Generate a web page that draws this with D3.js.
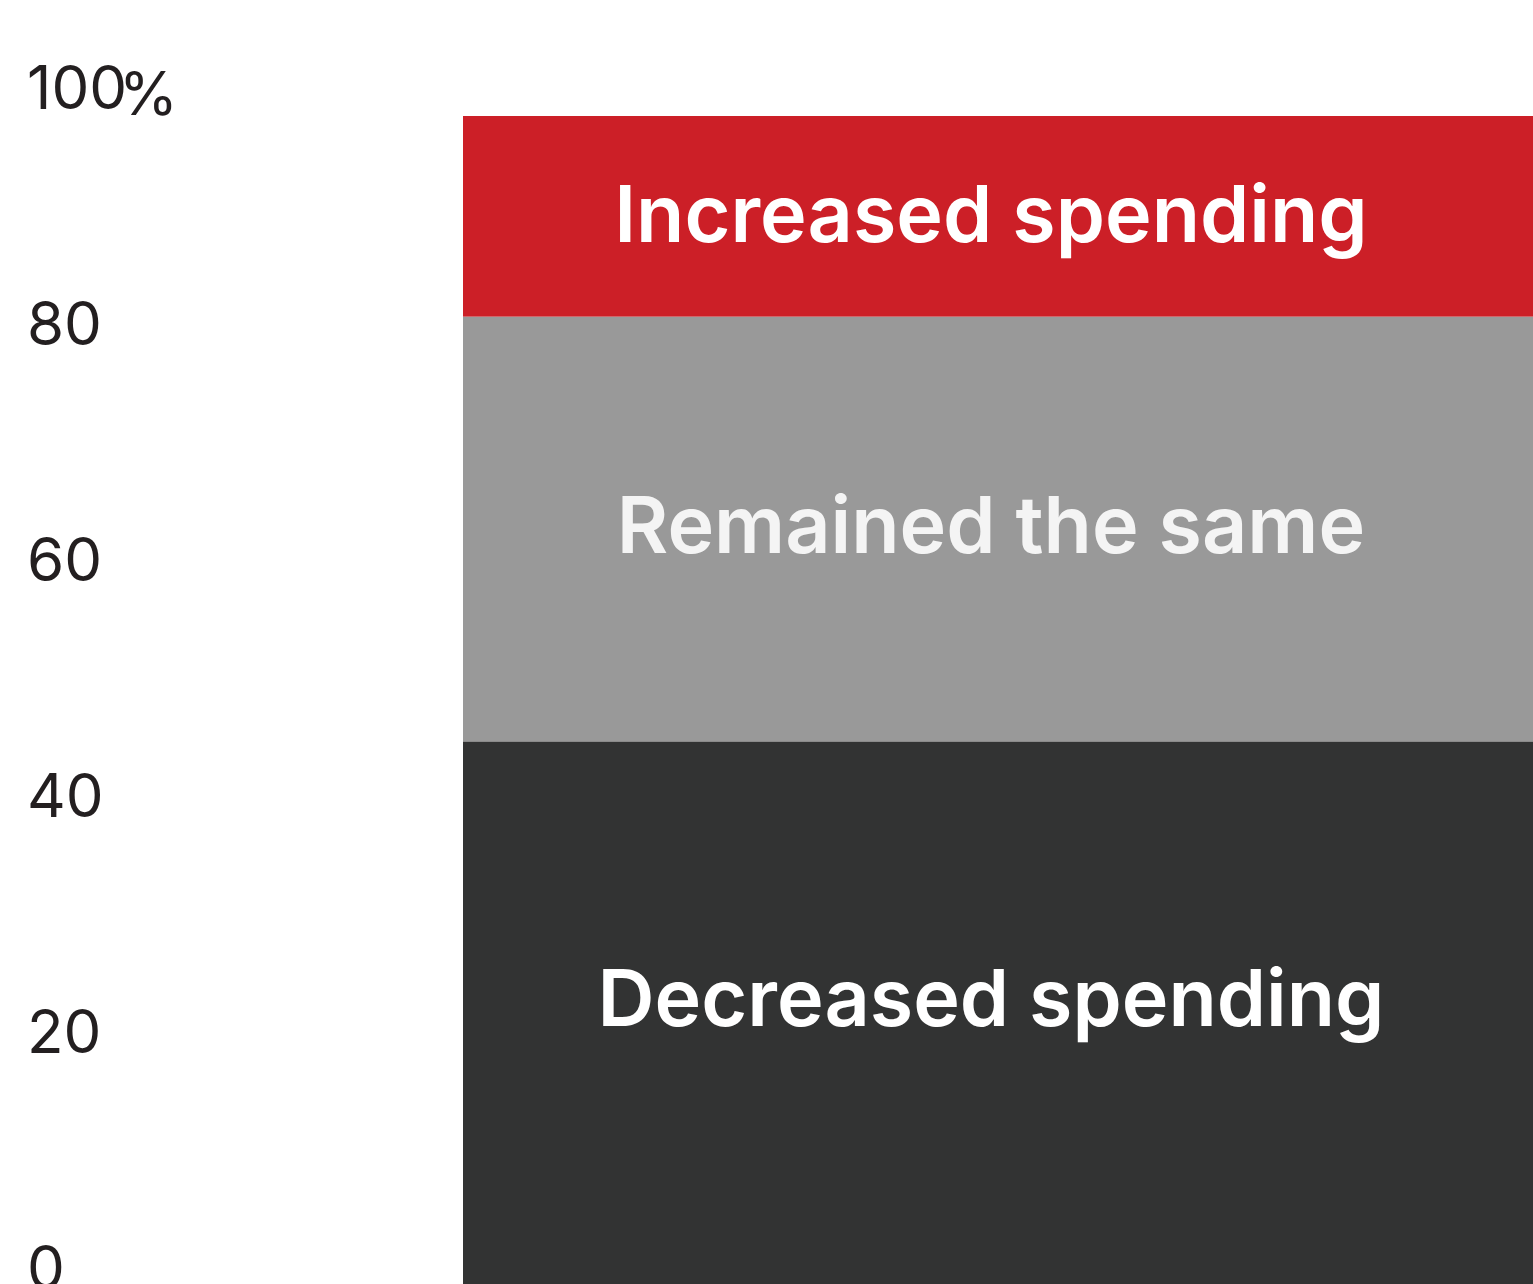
<!DOCTYPE html>
<html>
<head>
<meta charset="utf-8">
<script src="https://cdn.jsdelivr.net/npm/d3@7"></script>
<style>
  body { margin: 0; background: #fff; overflow: hidden; }
  svg { display: block; }
  .tick text { font-family: Inter, "Noto Sans", sans-serif; font-size: 60px; fill: #231f20; }
</style>
</head>
<body>
<div id="chart"></div>
<script>
// segments bottom -> top
const categories = ["Decreased spending", "Remained the same", "Increased spending"];
const values = [47, 36, 17];
const colors = ["#323333", "#999999", "#cc1f27"];
const labelAt = [25.3, 65.4, 91.7];
const tickValues = [0, 20, 40, 60, 80, 100];

const width = 1533;
const height = 1284;

const y = d3.scaleLinear()
    .domain([0, 100])
    .range([1296, 116]);
const x = d3.scaleLinear()
    .domain([0, 1])
    .range([463, 1533]);

const svg = d3.select("#chart")
    .append("svg")
    .attr("width", width)
    .attr("height", height);

// stack
let acc = 0;
const stacked = values.map((v, i) => {
    const d = {name: categories[i], y0: acc, y1: acc + v, color: colors[i], label: labelAt[i]};
    acc += v;
    return d;
});

svg.selectAll("rect.seg")
    .data(stacked)
    .join("rect")
    .attr("class", "seg")
    .attr("x", x(0))
    .attr("width", x(1) - x(0))
    .attr("y", d => y(d.y1))
    .attr("height", d => y(d.y0) - y(d.y1))
    .attr("fill", d => d.color);

svg.selectAll("text.seg-label")
    .data(stacked)
    .join("text")
    .attr("class", "seg-label")
    .attr("x", (x(0) + x(1)) / 2 - 7)
    .attr("y", d => y(d.label))
    .attr("dy", "0.36em")
    .attr("text-anchor", "middle")
    .attr("font-family", "Inter, 'Noto Sans', sans-serif")
    .attr("font-weight", 600)
    .attr("font-size", 79)
    .attr("fill", (d, i) => i === 1 ? "#f4f4f4" : "#ffffff")
    .text(d => d.name);

// y axis, labels only, sitting above their values
const axis = svg.append("g")
    .attr("transform", "translate(27,0)")
    .call(d3.axisLeft(y).tickValues(tickValues).tickSize(0).tickPadding(0));
axis.select(".domain").remove();
axis.selectAll(".tick text")
    .attr("text-anchor", "start")
    .attr("x", 0)
    .attr("y", -29)
    .attr("dy", "0.36em");

svg.append("text")
    .attr("x", 119)
    .attr("y", y(100) - 1)
    .attr("font-family", "Inter, 'Noto Sans', sans-serif")
    .attr("font-size", 60)
    .attr("fill", "#231f20")
    .text("%");
</script>
</body>
</html>
